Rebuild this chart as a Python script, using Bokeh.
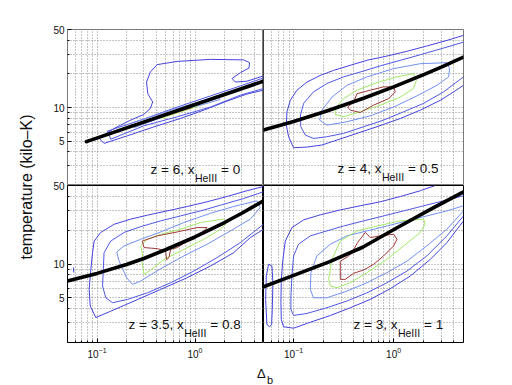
import math
from bokeh.plotting import figure
from bokeh.models import Range1d, FixedTicker, NumeralTickFormatter, Label, Span
from bokeh.layouts import row, column
from bokeh.embed import file_html
from bokeh.resources import INLINE

FONT = "Liberation Sans"

# ---------------- axes ----------------
X_RANGE = (0.05, 5.0)
Y_RANGE = (2.0, 50.0)
X_MAJOR = [0.1, 1.0]
X_MINOR = [0.06, 0.07, 0.08, 0.09, 0.2, 0.3, 0.4, 0.5, 0.6, 0.7, 0.8, 0.9, 2.0, 3.0, 4.0]
Y_MAJOR = [5, 10, 50]
Y_MINOR = [2, 3, 4, 6, 7, 8, 9, 20, 30, 40]

# ---------------- panel titles ----------------
Z_LABELS = ["z = 6, x", "z = 4, x", "z = 3.5, x", "z = 3, x"]
SUB_LABEL = "HeIII"
X_HEIII = [" = 0", " = 0.5", " = 0.8", " = 1"]

# ---------------- top-left: z = 6 ----------------
tl_line_d = [0.078, 5.0]
tl_line_t = [4.95, 17.2]
tl_b1_d = [5.0, 3.39, 2.58, 2.39, 2.90, 3.56, 3.61, 3.14, 1.44, 0.66, 0.41, 0.35, 0.32, 0.33,
           0.37, 0.35, 0.30, 0.22, 0.15, 0.105, 0.118, 0.204, 0.38, 0.71, 1.23, 2.12, 3.39, 5.0]
tl_b1_t = [19.2, 17.2, 16.9, 18.2, 20.5, 22.6, 25.2, 26.7, 27.0, 25.9, 24.2, 20.8, 16.9, 13.3,
           11.2, 9.8, 8.66, 7.7, 6.5, 5.3, 4.77, 5.58, 6.7, 7.98, 9.47, 11.4, 13.2, 14.3]
tl_b2_d = [5.0, 2.90, 1.44, 0.66, 0.30, 0.128, 0.138, 0.30, 0.66, 1.44, 2.90, 5.0]
tl_b2_t = [18.4, 15.6, 12.7, 10.1, 7.87, 6.15, 5.2, 6.85, 8.26, 10.1, 12.9, 14.8]
tl_b3_d = [0.22, 0.6, 1.7, 1.8, 0.6, 0.24]
tl_b3_t = [7.2, 9.6, 12.6, 11.8, 8.9, 6.6]
tl_g_d = [0.42, 1.0, 1.05, 0.45]
tl_g_t = [8.3, 10.8, 10.2, 8.0]
tl_r_d = [0.5, 0.9, 0.93, 0.52]
tl_r_t = [8.75, 10.4, 10.0, 8.5]

# ---------------- top-right: z = 4 ----------------
tr_line_d = [0.05, 0.1, 0.2, 0.3, 0.5, 1.0, 2.0, 3.0, 5.0]
tr_line_t = [6.28, 7.5, 9.1, 10.3, 12.1, 15.3, 19.7, 23.0, 28.3]
tr_b1_d = [5.0, 3.41, 2.15, 1.36, 0.857, 0.541, 0.369, 0.251, 0.185, 0.136, 0.108, 0.0927, 0.0858,
           0.0845, 0.0891, 0.1, 0.136, 0.192, 0.271, 0.43, 0.681, 1.17, 1.85, 2.93, 3.98, 5.0]
tr_b1_t = [44.3, 39.9, 35.6, 31.9, 28.9, 26.5, 23.9, 21.5, 19.4, 16.9, 14.3, 11.6, 9.15,
           6.95, 5.47, 4.36, 4.42, 4.61, 5.11, 5.86, 6.72, 7.98, 9.47, 11.6, 13.8, 15.8]
tr_b2_d = [5.0, 3.16, 1.85, 1.17, 0.736, 0.464, 0.316, 0.215, 0.158, 0.126, 0.117, 0.118, 0.131,
           0.158, 0.215, 0.316, 0.501, 0.794, 1.26, 2.0, 3.16, 5.0]
tr_b2_t = [38.5, 34.1, 29.7, 26.5, 23.6, 20.8, 18.8, 16.4, 13.8, 10.9, 8.55, 6.72, 5.66,
           5.28, 5.47, 5.86, 6.72, 7.71, 9.15, 10.9, 13.8, 18.8]
tr_b3_d = [3.41, 3.63, 3.55, 2.71, 1.71, 1.0, 0.585, 0.341, 0.215, 0.182, 0.192, 0.242, 0.341,
           0.541, 1.0, 1.85]
tr_b3_t = [25.2, 22.3, 18.8, 15.8, 12.7, 10.1, 8.43, 7.45, 6.95, 7.71, 9.47, 12.4, 15.8,
           18.8, 22.3, 24.7]
tr_g_d = [1.58, 1.69, 1.58, 1.17, 0.736, 0.464, 0.316, 0.261, 0.267, 0.316, 0.43, 0.681, 1.08]
tr_g_t = [20.1, 17.5, 14.8, 12.4, 10.5, 9.15, 8.26, 8.66, 10.1, 12.0, 14.3, 16.7, 18.8]
tr_r_d = [1.0, 1.04, 0.891, 0.631, 0.464, 0.369, 0.347, 0.398, 0.43, 0.585, 0.794]
tr_r_t = [15.3, 13.8, 12.0, 10.5, 9.02, 9.47, 10.1, 11.2, 13.3, 14.3, 15.3]

# ---------------- bottom-left: z = 3.5 ----------------
bl_line_d = [0.05, 0.1, 0.2, 0.3, 0.5, 1.0, 2.0, 3.0, 5.0]
bl_line_t = [7.05, 8.25, 9.9, 11.2, 13.4, 17.4, 23.4, 28.3, 36.5]
bl_b1_d = [5.0, 3.39, 2.12, 1.33, 0.832, 0.521, 0.327, 0.221, 0.15, 0.109, 0.0936, 0.09, 0.0865,
           0.0832, 0.0853, 0.0973, 0.138, 0.239, 0.446, 0.832, 1.44, 2.48, 3.67, 5.0]
bl_b1_t = [49.0, 44.9, 39.9, 35.8, 32.5, 29.7, 27.2, 25.1, 22.6, 19.1, 16.0, 12.6, 8.96,
           5.94, 4.22, 3.34, 3.80, 4.68, 5.94, 7.55, 9.6, 12.6, 17.2, 20.4]
bl_b2_d = [5.0, 3.14, 1.82, 1.14, 0.712, 0.446, 0.279, 0.189, 0.138, 0.118, 0.116, 0.114, 0.123,
           0.144, 0.205, 0.327, 0.564, 0.973, 1.68, 2.90, 5.0]
bl_b2_t = [44.0, 38.3, 33.4, 29.7, 26.8, 24.2, 21.5, 19.1, 16.0, 12.6, 8.96, 6.37, 5.0,
           4.52, 4.84, 5.54, 6.81, 8.66, 11.4, 15.5, 22.6]
bl_b3_d = [4.29, 4.63, 3.67, 2.30, 1.33, 0.769, 0.446, 0.279, 0.23, 0.201, 0.168, 0.159, 0.189,
           0.279, 0.446, 0.769, 1.44, 2.48]
bl_b3_t = [36.5, 31.8, 25.1, 19.7, 15.0, 11.8, 9.08, 7.05, 6.58, 7.55, 10.6, 12.8, 14.5,
           16.6, 19.3, 23.4, 28.3, 32.5]
bl_g_d = [1.96, 2.12, 1.82, 1.23, 0.769, 0.482, 0.353, 0.302, 0.29, 0.29, 0.279, 0.327, 0.446,
          0.712, 1.14]
bl_g_t = [25.1, 23.4, 20.4, 16.6, 13.5, 11.0, 8.84, 8.09, 9.93, 12.6, 14.5, 16.6, 18.4,
          20.4, 23.4]
bl_r_d = [0.29, 0.412, 0.659, 1.05, 1.33, 1.18, 0.832, 0.659, 0.564, 0.542, 0.513, 0.501, 0.412, 0.302]
bl_r_t = [16.0, 17.8, 19.3, 21.1, 21.1, 19.1, 16.0, 14.0, 13.5, 11.4, 10.9, 13.1, 13.7, 14.0]
bl_dot_d = [0.0575, 0.058]
bl_dot_t = [9.3, 8.4]

# ---------------- bottom-right: z = 3 ----------------
br_line_d = [0.05, 0.1, 0.23, 0.49, 1.05, 2.26, 5.0]
br_line_t = [6.27, 7.93, 10.5, 14.1, 20.7, 30.2, 43.8]
br_b1_d = [2.61, 1.85, 1.17, 0.736, 0.464, 0.293, 0.185, 0.126, 0.0962, 0.0826, 0.0782, 0.0753,
           0.0747, 0.0753, 0.0794, 0.1, 0.147, 0.233, 0.369, 0.585, 0.926, 1.47, 2.33, 3.41, 5.0]
br_b1_t = [50.0, 44.9, 39.9, 35.8, 33.0, 30.3, 27.4, 24.7, 21.1, 16.0, 11.0, 7.3,
           4.52, 3.21, 2.76, 2.68, 3.03, 3.48, 4.08, 4.84, 6.03, 7.82, 11.0, 15.5, 24.2]
br_b2_d = [5.0, 3.16, 2.0, 1.26, 0.794, 0.501, 0.316, 0.215, 0.147, 0.112, 0.1, 0.0962, 0.094,
           0.094, 0.1, 0.136, 0.215, 0.341, 0.541, 0.857, 1.36, 2.15, 3.41, 5.0]
br_b2_t = [40.5, 36.5, 33.0, 29.7, 26.8, 24.2, 21.8, 19.7, 17.8, 15.0, 11.8, 7.82, 5.18,
           3.94, 3.48, 3.63, 4.08, 4.68, 5.54, 6.81, 8.66, 11.8, 17.8, 26.8]
br_b3_d = [5.0, 3.41, 2.15, 1.36, 0.857, 0.541, 0.341, 0.233, 0.171, 0.149, 0.147, 0.158, 0.215,
           0.341, 0.541, 0.857, 1.36, 2.15, 3.41, 5.0]
br_b3_t = [33.0, 29.7, 26.8, 24.2, 21.8, 19.7, 17.8, 15.0, 11.8, 8.37, 5.94, 5.0, 5.0,
           5.74, 6.81, 8.37, 10.6, 14.5, 20.4, 29.7]
br_g_d = [0.224, 0.242, 0.293, 0.43, 0.681, 1.17, 2.0, 2.07, 1.85, 1.26, 0.857, 0.541, 0.369, 0.271, 0.233]
br_g_t = [7.3, 11.0, 16.0, 19.7, 21.8, 24.2, 25.1, 22.6, 19.1, 14.5, 11.0, 8.37, 6.81, 6.15, 6.37]
br_r_d = [0.293, 0.293, 0.347, 0.383, 0.436, 0.521, 0.585, 0.736, 1.0, 1.08, 1.0, 0.794, 0.631,
          0.501, 0.398, 0.329]
br_r_t = [7.3, 10.6, 11.6, 12.6, 15.5, 19.1, 17.2, 17.8, 18.4, 16.6, 14.5, 11.8, 9.93,
          8.84, 8.26, 7.3]
br_loop_d = [0.0562, 0.0607, 0.0621, 0.0612, 0.0603, 0.0575, 0.0541, 0.0525, 0.0533]
br_loop_t = [9.93, 9.6, 6.81, 3.94, 2.89, 2.76, 2.89, 4.84, 7.82]

# ---------------- styling ----------------
BLUE1 = "#4444de"
BLUE2 = "#5058e4"
BLUE3 = "#7290f2"
GREEN = "#a2ea68"
RED = "#a03838"
GRID = "#8a8a8a"
TEXT = "#111111"

ARIAL = {' ': 278, '=': 584, ',': 278, '.': 278, 'x': 500, 'z': 500, 'H': 722, 'e': 556, 'I': 278}


def text_width(s, size):
    return sum(ARIAL.get(c, 556) for c in s) * size / 1000.0


def make_panel(fw, fh, bl, br, bt, bb, show_x, show_y, outline):
    p = figure(frame_width=fw, frame_height=fh, x_axis_type="log", y_axis_type="log",
               x_range=Range1d(*X_RANGE), y_range=Range1d(*Y_RANGE),
               x_axis_location="below" if show_x else None,
               y_axis_location="left" if show_y else None,
               output_backend="svg", toolbar_location=None, title=None,
               min_border_left=bl, min_border_right=br, min_border_top=bt, min_border_bottom=bb)
    p.outline_line_color = outline
    p.outline_line_width = 1
    p.background_fill_color = "white"
    p.border_fill_color = None
    p.xgrid.ticker = FixedTicker(ticks=X_MAJOR, minor_ticks=X_MINOR)
    p.ygrid.ticker = FixedTicker(ticks=Y_MAJOR, minor_ticks=Y_MINOR)
    for g in (p.xgrid, p.ygrid):
        g.grid_line_color = GRID
        g.grid_line_dash = "1 2"
        g.grid_line_width = 1
        g.minor_grid_line_color = GRID
        g.minor_grid_line_dash = "1 2"
        g.minor_grid_line_width = 1
    if show_y:
        ax = p.yaxis[0]
        ax.ticker = FixedTicker(ticks=Y_MAJOR, minor_ticks=Y_MINOR)
        ax.formatter = NumeralTickFormatter(format="0")
        ax.major_label_standoff = 3
        ax.major_tick_in = 4
        ax.minor_tick_in = 2
        ax.major_tick_out = 0
        ax.minor_tick_out = 0
        ax.axis_line_color = None
        ax.major_label_text_font = FONT
        ax.major_label_text_font_size = "10px"
        ax.major_label_text_color = TEXT
    if show_x:
        ax = p.xaxis[0]
        ax.ticker = FixedTicker(ticks=X_MAJOR, minor_ticks=X_MINOR)
        ax.major_label_standoff = 4
        ax.major_tick_in = 4
        ax.minor_tick_in = 2
        ax.major_tick_out = 0
        ax.minor_tick_out = 0
        ax.axis_line_color = None
        ax.major_label_text_font = FONT
        ax.major_label_text_font_size = "10px"
        ax.major_label_text_color = TEXT
    return p


def closed(a):
    return list(a) + [a[0]]


def draw(p, line, opened, loops):
    for d, t, c in opened:
        p.line(d, t, line_color=c, line_width=1)
    for d, t, c in loops:
        p.line(closed(d), closed(t), line_color=c, line_width=1)
    p.line(line[0], line[1], line_color="black", line_width=3.6, line_cap="round",
           line_join="round")


def panel_point(dx, dy, fw, fh):
    lx = math.log10(X_RANGE[0]) + dx / fw * (math.log10(X_RANGE[1]) - math.log10(X_RANGE[0]))
    ly = math.log10(Y_RANGE[0]) + dy / fh * (math.log10(Y_RANGE[1]) - math.log10(Y_RANGE[0]))
    return 10 ** lx, 10 ** ly


def annotate(p, fw, fh, dx, dy, main, tail):
    ms, ss = 13.5, 10.5
    x, y = panel_point(dx, dy, fw, fh)
    p.add_layout(Label(x=x, y=y, text=main, text_font=FONT, text_font_size=f"{ms}px",
                       text_color=TEXT, text_align="left", text_baseline="alphabetic"))
    sx = dx + text_width(main, ms) + 0.5
    x, y = panel_point(sx, dy - 8, fw, fh)
    p.add_layout(Label(x=x, y=y, text=SUB_LABEL, text_font=FONT, text_font_size=f"{ss}px",
                       text_color=TEXT, text_align="left", text_baseline="alphabetic"))
    tx = sx + text_width(SUB_LABEL, ss) + 4
    x, y = panel_point(tx, dy, fw, fh)
    p.add_layout(Label(x=x, y=y, text=tail, text_font=FONT, text_font_size=f"{ms}px",
                       text_color=TEXT, text_align="left", text_baseline="alphabetic"))


TOP_OUT = "#7a7a7a"
BOTTOM_BORDER = 28
tl = make_panel(196, 156, 19, 0, 29, 0, False, True, TOP_OUT)
tr = make_panel(200, 156, 0, 49, 29, 0, False, False, TOP_OUT)
bl = make_panel(196, 157, 19, 0, 8, BOTTOM_BORDER, True, True, "black")
br = make_panel(200, 157, 0, 49, 8, BOTTOM_BORDER, True, False, "black")

draw(tl, (tl_line_d, tl_line_t),
     [(tl_b1_d, tl_b1_t, BLUE1), (tl_b2_d, tl_b2_t, BLUE2)],
     [(tl_b3_d, tl_b3_t, BLUE3), (tl_g_d, tl_g_t, GREEN), (tl_r_d, tl_r_t, RED)])
draw(tr, (tr_line_d, tr_line_t),
     [(tr_b1_d, tr_b1_t, BLUE1), (tr_b2_d, tr_b2_t, BLUE2)],
     [(tr_b3_d, tr_b3_t, BLUE3), (tr_g_d, tr_g_t, GREEN), (tr_r_d, tr_r_t, RED)])
draw(bl, (bl_line_d, bl_line_t),
     [(bl_b1_d, bl_b1_t, BLUE1), (bl_b2_d, bl_b2_t, BLUE2), (bl_dot_d, bl_dot_t, BLUE1)],
     [(bl_b3_d, bl_b3_t, BLUE3), (bl_g_d, bl_g_t, GREEN), (bl_r_d, bl_r_t, RED)])
draw(br, (br_line_d, br_line_t),
     [(br_b1_d, br_b1_t, BLUE1), (br_b2_d, br_b2_t, BLUE2), (br_b3_d, br_b3_t, BLUE3)],
     [(br_loop_d, br_loop_t, BLUE1), (br_g_d, br_g_t, GREEN), (br_r_d, br_r_t, RED)])

tr.add_layout(Span(location=X_RANGE[0], dimension="height", line_color="black", line_width=1))

annotate(tl, 196, 156, 83, 16, Z_LABELS[0], X_HEIII[0])
annotate(tr, 200, 156, 74, 17, Z_LABELS[1], X_HEIII[1])
annotate(bl, 196, 157, 61, 18, Z_LABELS[2], X_HEIII[2])
annotate(br, 200, 157, 90, 18, Z_LABELS[3], X_HEIII[3])

TOTAL_H = 384

# y-axis title column
ylab = figure(width=48, height=TOTAL_H, x_range=Range1d(0, 48), y_range=Range1d(0, TOTAL_H),
              x_axis_location=None, y_axis_location=None, min_border=0, title=None,
              output_backend="svg", toolbar_location=None)
ylab.grid.visible = False
ylab.outline_line_color = None
ylab.border_fill_color = None
ylab.background_fill_color = None
ylab.add_layout(Label(x=26, y=TOTAL_H - 186.5, text="temperature (kilo–K)", angle=math.pi / 2,
                      text_font=FONT, text_font_size="16px", text_color=TEXT,
                      text_align="center", text_baseline="middle"))

# x-axis title strip, overlapping the (transparent) bottom border of the lower panels
XLAB_H = 22
xlab = figure(width=464, height=XLAB_H, x_range=Range1d(0, 464), y_range=Range1d(0, XLAB_H),
              x_axis_location=None, y_axis_location=None, min_border=0, title=None,
              output_backend="svg", toolbar_location=None, margin=(-8, 0, 0, 0))
xlab.grid.visible = False
xlab.outline_line_color = None
xlab.border_fill_color = None
xlab.background_fill_color = None
xlab.add_layout(Label(x=208.5, y=11, text="Δ", text_font=FONT, text_font_size="13px",
                      text_color=TEXT, text_align="left", text_baseline="alphabetic"))
xlab.add_layout(Label(x=218.5, y=5, text="b", text_font=FONT, text_font_size="11px",
                      text_color=TEXT, text_align="left", text_baseline="alphabetic"))

top_row = row(tl, tr)
bottom_row = row(bl, br, margin=(-8, 0, 0, 0))
layout = row(ylab, column(top_row, bottom_row, xlab))

open("out.html", "w").write(file_html(layout, INLINE))
